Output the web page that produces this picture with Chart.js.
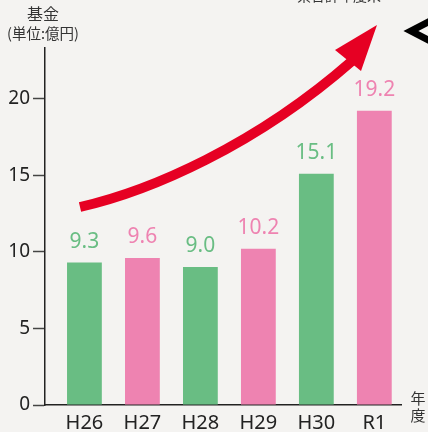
<!DOCTYPE html>
<html><head><meta charset="utf-8">
<script src="https://cdn.jsdelivr.net/npm/chart.js@4"></script>
<style>html,body{margin:0;padding:0;background:#f4f3f1;}#wrap{width:428px;height:432px;position:relative;}</style>
</head><body><div id="wrap"><canvas id="c" width="428" height="432"></canvas></div>
<script>
const categories = ['H26','H27','H28','H29','H30','R1'];
const values = [9.3, 9.6, 9.0, 10.2, 15.1, 19.2];
const yTicks = [0, 5, 10, 15, 20];
const GREEN = '#69bd83', PINK = '#ee83b1';
const barColors = categories.map((_, i) => i % 2 === 0 ? GREEN : PINK);
const FONT = "'Noto Sans', 'Noto Sans CJK JP', sans-serif";
const JFONT = "'Noto Sans CJK JP', sans-serif";

const deco = {
  id: 'deco',
  beforeDraw(chart) {
    const ctx = chart.ctx;
    ctx.save();
    ctx.fillStyle = '#f4f3f1';
    ctx.fillRect(0, 0, chart.width, chart.height);
    ctx.restore();
  },
  afterDatasetsDraw(chart) {
    const ctx = chart.ctx;
    ctx.save();
    // value labels
    const meta = chart.getDatasetMeta(0);
    ctx.font = '21px ' + FONT;
    ctx.textAlign = 'center';
    ctx.textBaseline = 'alphabetic';
    meta.data.forEach((el, i) => {
      ctx.fillStyle = barColors[i];
      ctx.fillText(values[i].toFixed(1), el.x, el.y - 15);
    });
    // titles
    ctx.fillStyle = '#333';
    ctx.font = '16px ' + JFONT;
    ctx.textBaseline = 'middle';
    ctx.fillText('基金', 43, 14);
    ctx.font = '14.5px ' + JFONT;
    ctx.fillText('(単位:億円)', 43, 33);
    ctx.font = '15px ' + JFONT;
    ctx.fillText('年', 418, 398);
    ctx.fillText('度', 418, 415);
    ctx.font = '14px ' + JFONT;
    ctx.textAlign = 'left';
    ctx.textBaseline = 'alphabetic';
    ctx.fillText('県合計年度末', 297, 1);
    // chevron
    ctx.strokeStyle = '#000';
    ctx.lineWidth = 7;
    ctx.lineJoin = 'miter';
    ctx.beginPath();
    ctx.moveTo(434, 19);
    ctx.lineTo(411, 31);
    ctx.lineTo(434, 43);
    ctx.stroke();
    // arrow
    ctx.strokeStyle = '#e60023';
    ctx.fillStyle = '#e60023';
    ctx.lineWidth = 10;
    ctx.lineCap = 'butt';
    ctx.beginPath();
    ctx.moveTo(80, 207);
    ctx.bezierCurveTo(150, 191, 255, 146, 352, 61);
    ctx.stroke();
    ctx.beginPath();
    ctx.moveTo(377, 25);
    ctx.lineTo(335, 50);
    ctx.lineTo(361, 71);
    ctx.closePath();
    ctx.fill();
    ctx.restore();
  }
};

new Chart(document.getElementById('c'), {
  type: 'bar',
  data: {
    datasets: [{
      data: values.map((v, i) => ({x: i, y: v})),
      backgroundColor: barColors,
      categoryPercentage: 1,
      barPercentage: 0.6
    }]
  },
  options: {
    responsive: false,
    animation: false,
    devicePixelRatio: 1,
    layout: {padding: {top: 48, right: 27, left: 0, bottom: 0}},
    plugins: {legend: {display: false}, tooltip: {enabled: false}},
    scales: {
      x: {
        type: 'linear',
        offset: false,
        min: -0.68, max: 5.46,
        afterBuildTicks(s) { s.ticks = categories.map((_, i) => ({value: i})); },
        afterFit(s) { s.height = 27; },
        grid: {display: false, drawTicks: false},
        border: {display: true, color: '#222', width: 1.5},
        ticks: {
          padding: 6,
          color: '#222',
          font: {family: FONT, size: 20},
          callback: v => categories[v],
          maxRotation: 0, autoSkip: false
        }
      },
      y: {
        min: 0, max: 23.3,
        afterBuildTicks(s) { s.ticks = yTicks.map(v => ({value: v})); },
        afterFit(s) { s.width = 45; },
        grid: {drawOnChartArea: false, drawTicks: true, tickLength: 12, color: '#444', tickWidth: 1.5},
        border: {display: true, color: '#222', width: 1.5},
        ticks: {
          padding: 3,
          color: '#222',
          font: {family: FONT, size: 19},
          callback: v => String(v)
        }
      }
    }
  },
  plugins: [deco]
});
</script></body></html>
